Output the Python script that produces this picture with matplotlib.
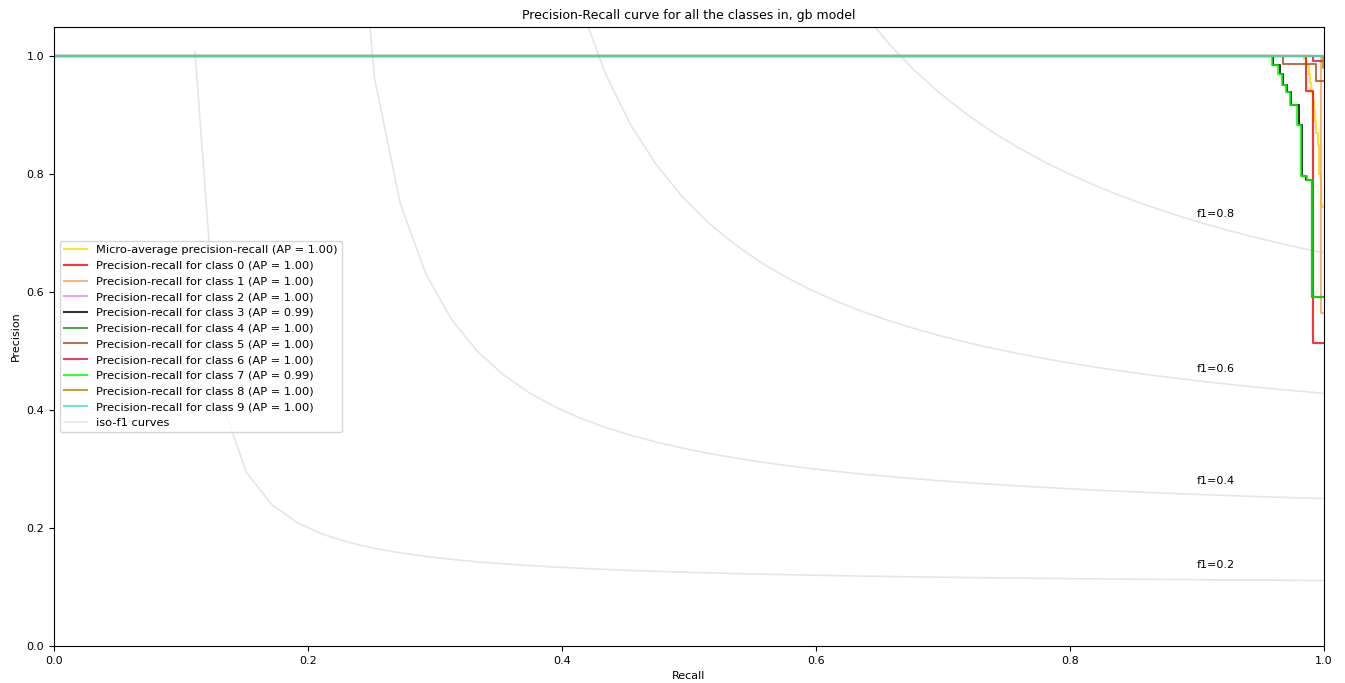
import numpy as np
import matplotlib
matplotlib.use('Agg')
import matplotlib.pyplot as plt

# valorile (recall, precision), desenate cu step 'post'
micro_recall = [0.0, 0.984, 0.986, 0.988, 0.989, 0.990, 0.991, 0.992, 0.993, 0.994, 0.995, 0.996, 0.9975, 0.9984, 1.0]
micro_prec = [1.0, 0.995, 0.985, 0.97, 0.955, 0.94, 0.925, 0.91, 0.89, 0.87, 0.85, 0.80, 0.75, 0.745, 0.745]

class_recall = {
    0: [0.0, 0.9858, 0.9913, 1.0],
    1: [0.0, 0.9976, 1.0],
    2: [0.0, 1.0],
    3: [0.0, 0.960, 0.965, 0.968, 0.971, 0.974, 0.980, 0.983, 0.986, 0.9906, 1.0],
    4: [0.0, 1.0],
    5: [0.0, 0.968, 0.9937, 1.0],
    6: [0.0, 0.9913, 1.0],
    7: [0.0, 0.959, 0.964, 0.967, 0.970, 0.973, 0.979, 0.982, 0.987, 0.9906, 1.0],
    8: [0.0, 0.999, 1.0],
    9: [0.0, 1.0],
}
class_prec = {
    0: [1.0, 0.942, 0.514, 0.514],
    1: [1.0, 0.565, 0.565],
    2: [1.0, 1.0],
    3: [1.0, 0.985, 0.971, 0.951, 0.939, 0.917, 0.883, 0.797, 0.79, 0.592, 0.592],
    4: [1.0, 1.0],
    5: [1.0, 0.988, 0.959, 0.959],
    6: [1.0, 0.993, 0.993],
    7: [1.0, 0.985, 0.971, 0.951, 0.939, 0.917, 0.883, 0.797, 0.79, 0.592, 0.592],
    8: [1.0, 0.98, 0.98],
    9: [1.0, 1.0],
}
class_ap = [1.00, 1.00, 1.00, 0.99, 1.00, 1.00, 1.00, 0.99, 1.00, 1.00]
colors = ['red', 'sandybrown', 'violet', 'black', 'forestgreen', 'sienna',
          'crimson', 'lime', 'darkgoldenrod', 'turquoise']
f_scores = [0.2, 0.4, 0.6, 0.8]

plt.figure(figsize=(13.45, 6.83), dpi=100)
ax = plt.gca()
plt.subplots_adjust(left=54/1345, right=1324/1345, top=1-27/683, bottom=1-646/683)

lines = []
labels = []

# curbele iso-f1
for f_score in f_scores:
    x = np.linspace(0.01, 1)
    y = f_score * x / (2 * x - f_score)
    l, = plt.plot(x[y >= 0], y[y >= 0], color='gray', alpha=0.2, lw=1.2)
    plt.annotate('f1={0:0.1f}'.format(f_score), xy=(0.9, y[45] + 0.02), fontsize=8)

l, = plt.step(micro_recall, micro_prec, where='post', color='gold', lw=1.5, alpha=0.8)
lines.append(l)
labels.append('Micro-average precision-recall (AP = {0:0.2f})'.format(1.00))

for i in range(10):
    l, = plt.step(class_recall[i], class_prec[i], where='post', color=colors[i], lw=1.5, alpha=0.8)
    lines.append(l)
    labels.append('Precision-recall for class {0} (AP = {1:0.2f})'.format(i, class_ap[i]))

iso, = plt.plot([], [], color='gray', alpha=0.2, lw=1.2)
lines.append(iso)
labels.append('iso-f1 curves')

plt.xlim([0.0, 1.0])
plt.ylim([0.0, 1.05])
plt.xlabel('Recall', fontsize=8)
plt.ylabel('Precision', fontsize=8)
plt.xticks(fontsize=8)
plt.yticks(fontsize=8)
plt.title('Precision-Recall curve for all the classes in, gb model', fontsize=9)
plt.legend(lines, labels, loc='center left', fontsize=8.2)

plt.savefig('out.png')
